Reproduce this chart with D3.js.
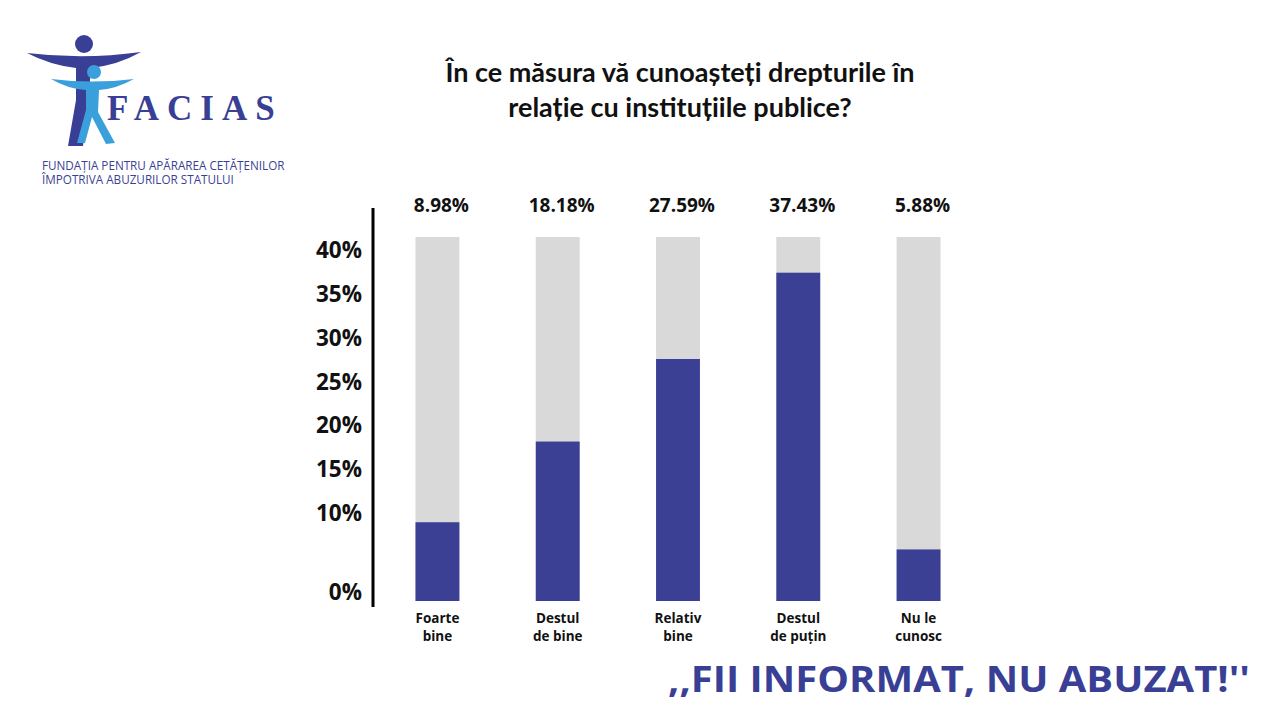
<!DOCTYPE html>
<html><head><meta charset="utf-8">
<script src="https://cdn.jsdelivr.net/npm/d3@7"></script>
<style>body{margin:0;background:#fff}svg{display:block}</style>
</head><body>
<script>
const categories = [["Foarte","bine"],["Destul","de bine"],["Relativ","bine"],["Destul","de puțin"],["Nu le","cunosc"]];
const values = [8.98, 18.18, 27.59, 37.43, 5.88];
const valueLabels = ["8.98%","18.18%","27.59%","37.43%","5.88%"];
const tickValues = [0, 10, 15, 20, 25, 30, 35, 40];
const tickLabels = ["0%","10%","15%","20%","25%","30%","35%","40%"];
const titleLines = ["În ce măsura vă cunoașteți drepturile în","relație cu instituțiile publice?"];
const slogan = ",,FII INFORMAT, NU ABUZAT!''";
const orgLines = ["FUNDAȚIA PENTRU APĂRAREA CETĂȚENILOR","ÎMPOTRIVA ABUZURILOR STATULUI"];

const W = 1280, H = 720;
const blue = "#3b4095", gray = "#d9d9d9", navy = "#3a3f96", sky = "#3aa0dc";
const svg = d3.select("body").append("svg").attr("width", W).attr("height", H);

// Logo
const logo = svg.append("g");
logo.append("circle").attr("cx", 84).attr("cy", 44).attr("r", 9).attr("fill", navy);
logo.append("path").attr("fill", navy)
  .attr("d", "M27,53 Q84,60 141,52 Q118,65 91,68 L88,105 L83,146 L68,146 L76,100 L76,68 Q50,65 27,53 Z");
logo.append("circle").attr("cx", 94).attr("cy", 72).attr("r", 7).attr("fill", sky);
logo.append("path").attr("fill", sky)
  .attr("d", "M51,79 Q93,84 134,79 Q116,89 99,90 L98,112 L115,143 L106,144 L92,117 L85,143 L77,143 L86,110 L86,90 Q68,89 51,79 Z");
logo.append("text").attr("x", 107).attr("y", 120).attr("fill", navy)
  .style("font-family", "'Liberation Serif', serif").style("font-weight", "bold").style("font-size", "35px").style("letter-spacing", "8px")
  .text("FACIAS");
orgLines.forEach((t, i) => logo.append("text").attr("x", 42).attr("y", 170 + i * 14).attr("fill", navy)
  .style("font-family", "'Open Sans', sans-serif").style("font-size", "11.7px").text(t));

// Title
svg.append("g").selectAll("text").data(titleLines).join("text")
  .attr("x", 680).attr("y", (d, i) => 82 + i * 35).attr("text-anchor", "middle")
  .style("font-family", "Lato, 'Open Sans', sans-serif").style("font-weight", "bold").style("font-size", "27px")
  .attr("fill", "#111").text(d => d);

// Scales
const x = d3.scaleBand().domain(d3.range(values.length)).range([377, 979]).paddingInner(0.635).paddingOuter(0.32);
const y = d3.scaleLinear().domain([0, 41.5]).range([601, 237]);

// Axis line
svg.append("line").attr("x1", 373).attr("x2", 373).attr("y1", 208).attr("y2", 607)
  .attr("stroke", "#000").attr("stroke-width", 3);

// Tick labels
svg.append("g").selectAll("text").data(tickValues).join("text")
  .attr("x", 362).attr("y", d => d === 0 ? y(d) - 9 : y(d)).attr("dy", "0.35em").attr("text-anchor", "end")
  .style("font-family", "'Open Sans', sans-serif").style("font-weight", "bold").style("font-size", "22.5px")
  .attr("fill", "#111").text((d, i) => tickLabels[i]);

// Background bars
svg.append("g").selectAll("rect").data(values).join("rect")
  .attr("x", (d, i) => x(i)).attr("width", x.bandwidth())
  .attr("y", y(41.5)).attr("height", y(0) - y(41.5)).attr("fill", gray);

// Value bars
svg.append("g").selectAll("rect").data(values).join("rect")
  .attr("x", (d, i) => x(i)).attr("width", x.bandwidth())
  .attr("y", d => y(d)).attr("height", d => y(0) - y(d)).attr("fill", blue);

// Value labels
svg.append("g").selectAll("text").data(values).join("text")
  .attr("x", (d, i) => x(i) + x.bandwidth() / 2 + 4).attr("y", 212).attr("text-anchor", "middle")
  .style("font-family", "'Open Sans', sans-serif").style("font-weight", "bold").style("font-size", "19px")
  .attr("fill", "#111").text((d, i) => valueLabels[i]);

// Category labels
const cat = svg.append("g").selectAll("text").data(categories).join("text")
  .attr("x", (d, i) => x(i) + x.bandwidth() / 2).attr("y", 623).attr("text-anchor", "middle")
  .style("font-family", "'Open Sans', sans-serif").style("font-weight", "bold").style("font-size", "13.5px")
  .attr("fill", "#111");
cat.selectAll("tspan").data(d => d).join("tspan")
  .attr("x", function () { return d3.select(this.parentNode).attr("x"); })
  .attr("dy", (d, i) => i ? "1.35em" : 0).text(d => d);

// Slogan
svg.append("text").attr("x", 668).attr("y", 692)
  .attr("textLength", 582).attr("lengthAdjust", "spacingAndGlyphs")
  .style("font-family", "'Open Sans', sans-serif").style("font-weight", "bold").style("font-size", "35px")
  .attr("fill", navy).text(slogan);
</script>
</body></html>
